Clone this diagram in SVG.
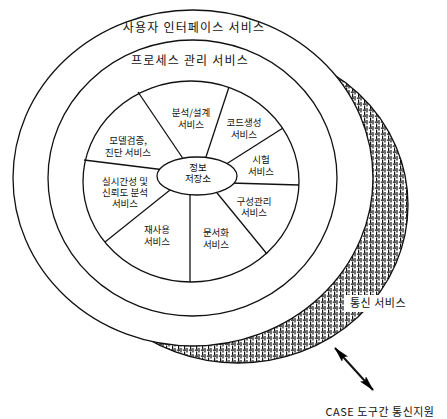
<svg xmlns="http://www.w3.org/2000/svg" width="447" height="419" viewBox="0 0 447 419">
<defs>
<pattern id="hatch" width="6" height="6" patternUnits="userSpaceOnUse">
<rect width="6" height="6" fill="#fff"/>
<path d="M1 0V4.6 M2.8 2.2H6 M4.6 3.6V6 M4 0.6H5.4" stroke="#111" stroke-width="1.2"/>
</pattern>
<marker id="ah" viewBox="0 0 16 8" refX="15" refY="4" markerWidth="16" markerHeight="8" orient="auto-start-reverse" markerUnits="userSpaceOnUse">
<path d="M0 0 L16 4 L0 8 L3 4 Z" fill="#000"/>
</marker>
</defs>
<style>
.ln{fill:none;stroke:#111;stroke-width:1.3}
.wf{fill:#fff;stroke:#111;stroke-width:1.3}
.t{font-family:"Noto Sans CJK KR","Noto Sans",sans-serif;font-size:9.5px;fill:#111;text-anchor:middle}
.big{font-size:12px;letter-spacing:1.2px}
.mid{font-size:11px;letter-spacing:0.5px}
</style>

<g id="communication-service">
<ellipse cx="238" cy="205" rx="170" ry="158" fill="url(#hatch)" stroke="#111" stroke-width="1.3"/>
<rect x="344" y="295" width="70" height="17" fill="#fff"/>
<text class="t mid" x="378" y="307">통신 서비스</text>
</g>

<g id="user-interface-service">
<ellipse class="wf" cx="193" cy="178" rx="180" ry="168"/>
<text class="t big" x="194" y="32">사용자 인터페이스 서비스</text>
</g>

<g id="process-management-service">
<ellipse class="wf" cx="192.5" cy="178" rx="144.5" ry="138"/>
<text class="t big" x="190" y="65">프로세스 관리 서비스</text>
</g>

<g id="tool-wheel">
<ellipse class="wf" cx="191" cy="181.5" rx="108" ry="100.5"/>
</g>

<g id="spokes">
<path class="ln" d="M186 163 L138 92"/>
<path class="ln" d="M204 163 L229 87"/>
<path class="ln" d="M220 168 L283 128"/>
<path class="ln" d="M230 183 L299 185"/>
<path class="ln" d="M213 188 L267 254"/>
<path class="ln" d="M190 190 L190 282"/>
<path class="ln" d="M175 186 L105 242"/>
<path class="ln" d="M165 170 L84 160"/>
</g>

<g id="analysis-design"><text class="t" x="191" y="116">분석/설계</text><text class="t" x="191" y="128">서비스</text></g>
<g id="code-generation"><text class="t" x="244" y="126">코드생성</text><text class="t" x="244" y="137.5">서비스</text></g>
<g id="test"><text class="t" x="261" y="163">시험</text><text class="t" x="261" y="174.5">서비스</text></g>
<g id="configuration-management"><text class="t" x="254" y="204.5">구성관리</text><text class="t" x="254" y="216">서비스</text></g>
<g id="documentation"><text class="t" x="216" y="236">문서화</text><text class="t" x="216" y="247.5">서비스</text></g>
<g id="reuse"><text class="t" x="157" y="233">재사용</text><text class="t" x="157" y="244.5">서비스</text></g>
<g id="realtime-reliability"><text class="t" x="125" y="184.5">실시간성 및</text><text class="t" x="125" y="195.5">신뢰도 분석</text><text class="t" x="125" y="206.5">서비스</text></g>
<g id="model-verification"><text class="t" x="128" y="143.5">모델검증,</text><text class="t" x="128" y="155.5">진단 서비스</text></g>

<g id="repository">
<ellipse class="wf" cx="197" cy="176" rx="40" ry="19"/>
<text class="t" x="198" y="170.5">정보</text>
<text class="t" x="198" y="182">저장소</text>
</g>

<g id="connectors">
<line x1="335" y1="348" x2="373" y2="390" stroke="#111" stroke-width="2" marker-start="url(#ah)" marker-end="url(#ah)"/>
</g>

<g id="case-support">
<text class="t mid" x="380" y="416">CASE 도구간 통신지원</text>
</g>
</svg>
